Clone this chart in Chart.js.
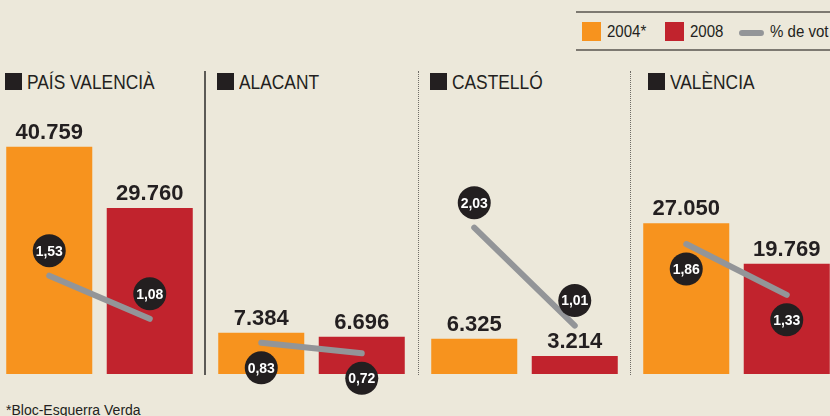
<!DOCTYPE html>
<html>
<head>
<meta charset="utf-8">
<script src="https://cdn.jsdelivr.net/npm/chart.js@4.4.1/dist/chart.umd.min.js"></script>
<style>
  html, body { margin:0; padding:0; }
  body { width:830px; height:416px; overflow:hidden; position:relative; background:#ece8da; font-family:"Liberation Sans", Arial, sans-serif; color:#231f20; }
  .abs { position:absolute; }
  canvas.panel { position:absolute; top:60px; }
  .legend { position:absolute; left:576px; top:11px; width:254px; height:36px; border-top:2px solid #7d7971; border-bottom:2px solid #7d7971; }
  .sw { position:absolute; width:19px; height:19px; top:9px; }
  .lt { position:absolute; font-size:16px; line-height:16px; top:11px; white-space:nowrap; transform:scaleX(0.94); transform-origin:0 0; }
  .title { position:absolute; top:73px; font-size:19.5px; line-height:19.5px; white-space:nowrap; transform:scaleX(0.89); transform-origin:0 0; }
  .sq { position:absolute; top:73px; width:17px; height:17px; background:#231f20; }
  .sep { position:absolute; top:71px; height:304px; }
</style>
</head>
<body>
<div class="legend">
  <div class="sw" style="left:6px;background:#f7931e"></div>
  <div class="lt" style="left:31px">2004*</div>
  <div class="sw" style="left:89px;background:#c1232d"></div>
  <div class="lt" style="left:114px">2008</div>
  <div class="abs" style="left:163px;top:17px;width:25px;height:6px;border-radius:3px;background:#939598"></div>
  <div class="lt" style="left:194px">% de vot</div>
</div>
<div id="titles"></div>
<div class="sep" style="left:204px;width:0;border-left:2px solid #5c5a56"></div>
<div class="sep" style="left:418px;width:0;border-left:1px dotted #6f6c66"></div>
<div class="sep" style="left:630px;width:0;border-left:1px dotted #6f6c66"></div>
<div class="abs" style="left:6px;top:403px;font-size:14px;line-height:14px;white-space:nowrap">*Bloc-Esquerra Verda</div>

<script>
// ---- data ----
const regions = ['PAÍS VALENCIÀ', 'ALACANT', 'CASTELLÓ', 'VALÈNCIA'];
const years = ['2004*', '2008'];
const votes2004 = [40759, 7384, 6325, 27050];
const votes2008 = [29760, 6696, 3214, 19769];
const pct2004 = [1.53, 0.83, 2.03, 1.86];
const pct2008 = [1.08, 0.72, 1.01, 1.33];

// ---- layout / style ----
const panelLeft = [-1, 211, 424, 636];
const squareLeft = [5, 217, 430, 648];
const titleLeft = [27, 239, 452, 670];
const circleSide = [-1, 1, -1, 1]; // -1 above line, 1 below
const ORANGE = '#f7931e', RED = '#c1232d', GREY = '#939598', INK = '#231f20';

const titles = document.getElementById('titles');
regions.forEach((r, i) => {
  const sq = document.createElement('div'); sq.className = 'sq'; sq.style.left = squareLeft[i] + 'px'; titles.appendChild(sq);
  const t = document.createElement('div'); t.className = 'title'; t.style.left = titleLeft[i] + 'px'; t.textContent = r; titles.appendChild(t);
});

const fmtVotes = n => String(n).replace(/\B(?=(\d{3})+(?!\d))/g, '.');
const fmtPct = n => n.toFixed(2).replace('.', ',');

function labelPlugin(i) {
  return {
    id: 'labels' + i,
    afterDatasetsDraw(chart) {
      const ctx = chart.ctx;
      const bars = chart.getDatasetMeta(1).data;
      const pts = chart.getDatasetMeta(0).data;
      const votes = [votes2004[i], votes2008[i]];
      const pcts = [pct2004[i], pct2008[i]];
      ctx.save();
      ctx.textAlign = 'center';
      ctx.fillStyle = INK;
      ctx.font = 'bold 22px "Liberation Sans", Arial, sans-serif';
      ctx.textBaseline = 'alphabetic';
      bars.forEach((b, j) => ctx.fillText(fmtVotes(votes[j]), b.x, b.y - 8));
      pts.forEach((p, j) => {
        const cy = p.y + circleSide[i] * 25;
        ctx.beginPath();
        ctx.arc(p.x, cy, 16.5, 0, Math.PI * 2);
        ctx.fillStyle = INK;
        ctx.fill();
        ctx.fillStyle = '#ffffff';
        ctx.font = 'bold 14px "Liberation Sans", Arial, sans-serif';
        ctx.textBaseline = 'middle';
        ctx.fillText(fmtPct(pcts[j]), p.x, cy + 1);
      });
      ctx.restore();
    }
  };
}

regions.forEach((r, i) => {
  const c = document.createElement('canvas');
  c.className = 'panel';
  c.width = 201; c.height = 360;
  c.style.left = panelLeft[i] + 'px';
  c.style.width = '201px'; c.style.height = '360px';
  document.body.appendChild(c);
  new Chart(c.getContext('2d'), {
    type: 'bar',
    data: {
      labels: years,
      datasets: [
        { type: 'line', label: '% de vot', data: [pct2004[i], pct2008[i]], yAxisID: 'y1',
          borderColor: GREY, borderWidth: 6, borderCapStyle: 'round', pointRadius: 0,
          tension: 0, fill: false, clip: false, order: 0 },
        { type: 'bar', label: 'vots', data: [votes2004[i], votes2008[i]], yAxisID: 'y',
          backgroundColor: [ORANGE, RED], borderWidth: 0,
          barPercentage: 0.856, categoryPercentage: 1, order: 1 }
      ]
    },
    options: {
      responsive: false, animation: false, devicePixelRatio: 1,
      layout: { padding: { top: 40, bottom: 46, left: 0, right: 0 } },
      plugins: { legend: { display: false }, tooltip: { enabled: false }, title: { display: false } },
      scales: {
        x: { display: false, offset: true },
        y: { display: false, min: 0, max: 49130 },
        y1: { display: false, min: 0.5047, max: 3.3615 }
      }
    },
    plugins: [labelPlugin(i)]
  });
});
</script>
</body>
</html>
